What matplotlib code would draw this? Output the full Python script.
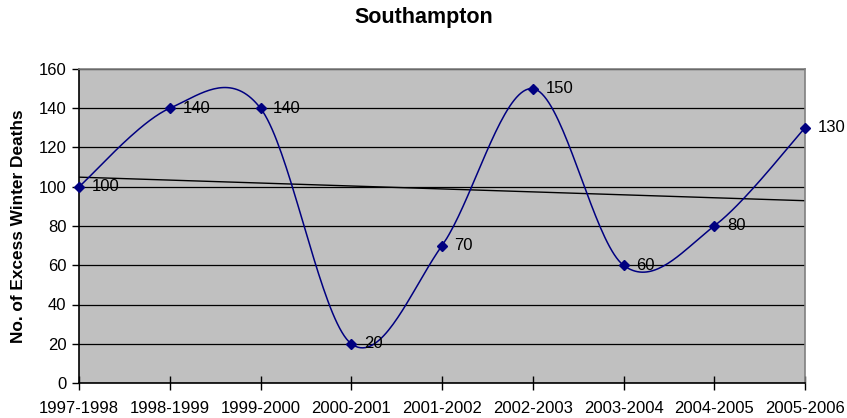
import numpy as np
import matplotlib
matplotlib.use("Agg")
import matplotlib.pyplot as plt

categories = ["1997-1998", "1998-1999", "1999-2000", "2000-2001", "2001-2002",
              "2002-2003", "2003-2004", "2004-2005", "2005-2006"]
deaths = [100, 140, 140, 20, 70, 150, 60, 80, 130]
title = "Southampton"
ylabel = "No. of Excess Winter Deaths"

plt.rcParams['font.family'] = ['Liberation Sans', 'DejaVu Sans']

fig = plt.figure(figsize=(8.47, 4.18), dpi=100)
ax = fig.add_axes([79/847, 1-383/418, (805-79)/847, (383-69)/418])
ax.set_facecolor('#C0C0C0')

x = np.arange(len(deaths), dtype=float)
y = np.array(deaths, dtype=float)

# Excel-like smoothed line (cubic Bezier with Catmull-Rom tangents)
px = np.concatenate([[x[0]], x, [x[-1]]])
py = np.concatenate([[y[0]], y, [y[-1]]])
sx, sy = [], []
t = np.linspace(0, 1, 40)
for i in range(len(x) - 1):
    p0 = np.array([x[i], y[i]]); p3 = np.array([x[i+1], y[i+1]])
    prev = np.array([px[i], py[i]]); nxt = np.array([px[i+3], py[i+3]])
    c1 = p0 + (p3 - prev) / 6.0
    c2 = p3 - (nxt - p0) / 6.0
    b = ((1-t)**3)[:, None]*p0 + (3*(1-t)**2*t)[:, None]*c1 + (3*(1-t)*t**2)[:, None]*c2 + (t**3)[:, None]*p3
    sx.extend(b[:, 0]); sy.extend(b[:, 1])

ax.plot(sx, sy, color='#000080', lw=1.1, zorder=3, clip_on=False)
ax.plot(x, y, linestyle='none', marker='D', ms=5, color='#000080', zorder=4, clip_on=False)

# linear trendline
k, c = np.polyfit(x, y, 1)
ax.plot([x[0], x[-1]], [c + k*x[0], c + k*x[-1]], color='black', lw=1.0, zorder=2)

for xi, yi in zip(x, y):
    ax.annotate(f"{int(yi)}", (xi, yi), xytext=(9, 0), textcoords='offset points',
                va='center', ha='left', fontsize=12, zorder=5, annotation_clip=False)

ax.set_xlim(0, len(x) - 1)
ax.set_ylim(0, 160)
ax.set_yticks(np.arange(0, 161, 20))
ax.set_xticks(x)
ax.set_xticklabels(categories)
ax.yaxis.grid(True, color='black', lw=0.9)
ax.set_axisbelow(True)
ax.tick_params(axis='y', direction='out', length=5, width=1, labelsize=12, pad=4)
ax.tick_params(axis='x', direction='inout', length=10, width=1, labelsize=12, pad=8)

for s in ['top', 'right']:
    ax.spines[s].set_color('#808080')
    ax.spines[s].set_linewidth(1.2)
for s in ['left', 'bottom']:
    ax.spines[s].set_color('black')
    ax.spines[s].set_linewidth(1.2)

ax.set_ylabel(ylabel, fontsize=12.4, fontweight='bold', labelpad=9)
fig.text(0.5, 1-17/418, title, ha='center', va='center', fontsize=15.5, fontweight='bold')

fig.savefig("out.png", dpi=100)
